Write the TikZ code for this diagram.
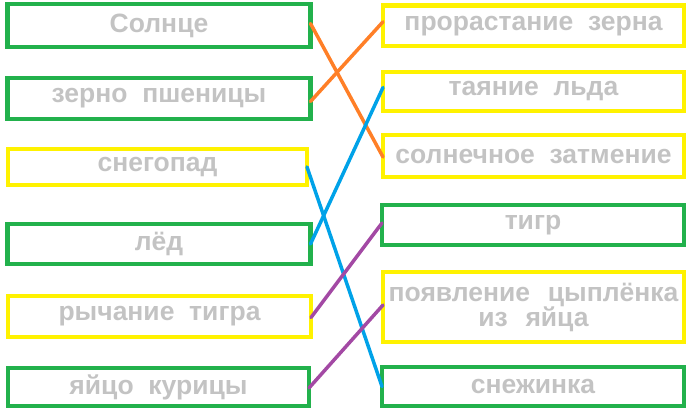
\documentclass[tikz,border=0pt]{standalone}
\usepackage{fontspec}
\setmainfont{Liberation Sans}
\definecolor{bgreen}{HTML}{22B14C}
\definecolor{byellow}{HTML}{FFF200}
\definecolor{borange}{HTML}{FF7F27}
\definecolor{bblue}{HTML}{00A2E8}
\definecolor{bpurple}{HTML}{A349A4}
\definecolor{tgray}{HTML}{C3C3C3}
\begin{document}
\begin{tikzpicture}[x=1pt,y=-1pt,
  box/.style={rectangle, line width=4.5pt, inner sep=0pt, outer sep=0pt,
    font=\fontsize{26.5}{25}\selectfont\bfseries, text=tgray, align=center},
  gbox/.style={box, draw=bgreen},
  ybox/.style={box, draw=byellow},
  link/.style={line width=3.5pt, line cap=round}]
\useasboundingbox (0,0) rectangle (686,420);
% left column
\node[gbox, minimum width=303pt, minimum height=43pt] (sun) at (159,25.5) {Солнце};
\node[gbox, minimum width=303pt, minimum height=41pt] (grain) at (159,98.5) {зерно\ \ пшеницы};
\node[ybox, minimum width=299pt, minimum height=36pt] (snowfall) at (157.5,167) {снегопад};
\node[gbox, minimum width=303pt, minimum height=40pt] (ice) at (159,244) {лёд};
\node[ybox, minimum width=303pt, minimum height=41pt] (roar) at (159.5,316.5) {рычание\ \ тигра};
\node[gbox, minimum width=301pt, minimum height=38pt] (egg) at (158.5,387) {яйцо\ \ курицы};
% right column
\node[ybox, minimum width=301pt, minimum height=40.5pt] (sprout) at (533.5,25.75) {прорастание\ \ зерна};
\node[ybox, minimum width=301pt, minimum height=39pt] (melt) at (533.5,91.5) {таяние\ \ льда};
\node[ybox, minimum width=301pt, minimum height=42pt] (eclipse) at (533.5,156) {солнечное\ \ затмение};
\node[gbox, minimum width=302pt, minimum height=40pt] (tiger) at (533,225) {тигр};
\node[ybox, minimum width=301pt, minimum height=70pt, text width=295pt] (chick) at (533.5,307) {появление\ \ цыплёнка\\из\ \ яйца};
\node[gbox, minimum width=302pt, minimum height=39pt] (flake) at (533,386.5) {снежинка};
% connectors
\draw[link, borange] ([yshift=2pt]sun.east) -- ([yshift=-1pt]eclipse.west);
\draw[link, borange] ([yshift=-3pt]grain.east) -- ([yshift=4pt]sprout.west);
\draw[link, bblue] (ice.east) -- ([yshift=4pt]melt.west);
\draw[link, bblue] (snowfall.east) -- (flake.west);
\draw[link, bpurple] ([yshift=-1pt]roar.east) -- ([yshift=2pt]tiger.west);
\draw[link, bpurple] ([yshift=-1pt]egg.east) -- ([yshift=2pt]chick.west);
\end{tikzpicture}
\end{document}
